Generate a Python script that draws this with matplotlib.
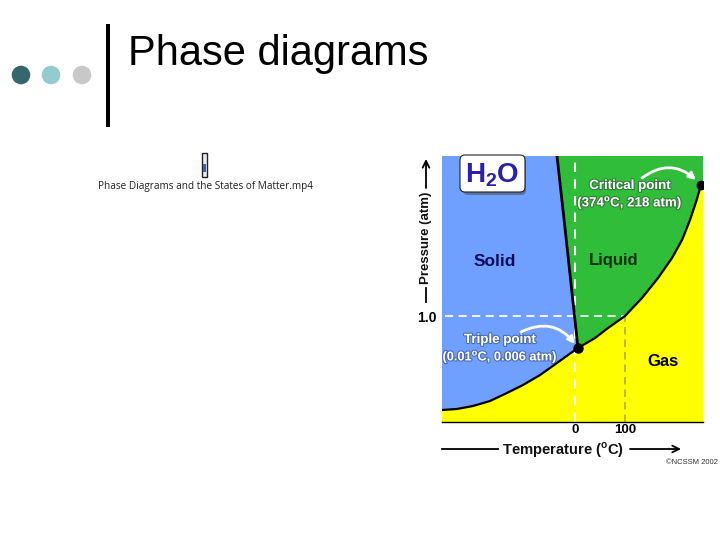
import matplotlib
matplotlib.use('Agg')
import matplotlib.pyplot as plt
import matplotlib.patheffects as pe
from matplotlib.patches import Circle, FancyBboxPatch, Rectangle

plt.rcParams['font.family'] = ['Liberation Sans', 'DejaVu Sans']
plt.rcParams['mathtext.fontset'] = 'custom'
plt.rcParams['mathtext.bf'] = 'Liberation Sans:bold'
plt.rcParams['mathtext.rm'] = 'Liberation Sans'

# Curves (the original diagram is schematic, not to scale)
sub_t = [-266, -236, -204, -170, -136, -104, -70, -36, -14, 6]
sub_p = [0.113, 0.123, 0.151, 0.198, 0.274, 0.349, 0.443, 0.557, 0.632, 0.698]
vap_t = [6, 40, 66, 100, 134, 166, 194, 214, 230, 242, 252]
vap_p = [0.698, 0.792, 0.887, 1.0, 1.17, 1.358, 1.547, 1.717, 1.906, 2.075, 2.236]
melt_t = [6, -4, -20, -36]
melt_p = [0.698, 1.132, 1.83, 2.51]

t_ticks = [0, 100]
t_tick_labels = ['0', '100']
p_ticks = [1.0]
p_tick_labels = ['1.0']

t_min, t_max = -266, 256
p_max = 2.51

BLUE = '#6f9fff'
GREEN = '#2fbd3a'
YELLOW = '#ffff00'
NAVY = '#0b0b55'
W, H = 720, 540


def px_box(x0, y0, x1, y1):
    return [x0 / W, 1 - y1 / H, (x1 - x0) / W, (y1 - y0) / H]


fig = plt.figure(figsize=(7.2, 5.4), dpi=100)

# Phase diagram
ax = fig.add_axes(px_box(442, 156, 703, 422))
ax.set_xlim(t_min, t_max)
ax.set_ylim(0, p_max)
ax.set_facecolor(BLUE)

# Regions
gas_t = sub_t + vap_t[1:] + [t_max, t_max, t_min]
gas_p = sub_p + vap_p[1:] + [vap_p[-1], 0, 0]
ax.fill(gas_t, gas_p, color=YELLOW, lw=0)
liq_t = melt_t + [t_max, t_max] + vap_t[::-1]
liq_p = melt_p + [p_max, vap_p[-1]] + vap_p[::-1]
ax.fill(liq_t, liq_p, color=GREEN, lw=0)

# Dashed guides
ax.plot([0, 0], [0, p_max], color='white', lw=1.5, dashes=(4.5, 3.5))
ax.plot([t_min + 6, 100], [1.0, 1.0], color='white', lw=1.3, dashes=(4.5, 3))
ax.plot([100, 100], [0, 1.0], color='#b5a94a', lw=1.2, dashes=(4.5, 3))

# Phase boundaries
ax.plot(sub_t, sub_p, color='black', lw=1.6)
ax.plot(vap_t, vap_p, color='black', lw=1.6)
ax.plot(melt_t, melt_p, color='black', lw=2)
ax.plot([vap_t[0]], [vap_p[0]], 'o', color='black', ms=6.5)
ax.plot([vap_t[-1]], [vap_p[-1]], 'o', color='black', ms=6)

ax.set_xticks(t_ticks, t_tick_labels, fontweight='bold', fontsize=9.5)
ax.set_yticks(p_ticks, p_tick_labels, fontweight='bold', fontsize=10)
ax.tick_params(length=0, pad=1.5)
ax.tick_params(axis='y', pad=4)
for s in ['top', 'left', 'right']:
    ax.spines[s].set_visible(False)
ax.spines['bottom'].set_linewidth(1)

# Everything else on an overlay in pixel coordinates
ov = fig.add_axes([0, 0, 1, 1], facecolor='none')
ov.set_xlim(0, W)
ov.set_ylim(H, 0)
ov.axis('off')

# Slide decoration
for cx, col in [(21, '#35686e'), (51, '#93cbcf'), (82, '#c8c8c8')]:
    ov.add_patch(Circle((cx, 75), 9.3, color=col, lw=0))
ov.add_patch(Rectangle((106, 24), 4, 103, color='black', lw=0))
ov.text(128, 54, 'Phase diagrams', fontsize=30, va='center', ha='left', color='black')

# Video icon and name
ov.add_patch(Rectangle((201.5, 153), 5.5, 23.5, fc='#e8eef2', ec='#222222', lw=1))
ov.add_patch(Rectangle((203, 164), 2.5, 8, fc='#2a6ab0', lw=0))
ov.text(205, 186, 'Phase Diagrams and the States of Matter.mp4', fontsize=7.2,
        family='Open Sans', ha='center', va='center', color='#222222')

# H2O box
ov.add_patch(FancyBboxPatch((463, 158), 63, 37, boxstyle='round,pad=0,rounding_size=5',
                            fc='#444444', ec='none', alpha=0.5))
ov.add_patch(FancyBboxPatch((460, 155), 65, 37, boxstyle='round,pad=0,rounding_size=5',
                            fc='white', ec='#222222', lw=0.8))
ov.text(492, 175, r'H$_{\mathbf{2}}$O', fontsize=20, fontweight='bold', color='#2a1fb0',
        ha='center', va='center')

# Region names
ov.text(495, 262, 'Solid', fontsize=12.5, fontweight='bold', color=NAVY, ha='center', va='center')
ov.text(614, 261, 'Liquid', fontsize=12, fontweight='bold', color='#06300a', ha='center', va='center')
ov.text(663, 361, 'Gas', fontsize=12, fontweight='bold', color='black', ha='center', va='center')

# Point labels with shadowed white text
sh = [pe.withStroke(linewidth=1.6, foreground='#33553a', alpha=0.6)]
ov.text(630, 186, 'Critical point', fontsize=9.6, fontweight='bold', color='white', ha='center',
        va='center', path_effects=sh)
ov.text(630, 203, r'(374$^{\mathbf{o}}$C, 218 atm)', fontsize=9.6, fontweight='bold', color='white',
        ha='center', va='center', path_effects=sh)
sh2 = [pe.withStroke(linewidth=1.6, foreground='#334a77', alpha=0.6)]
ov.text(500, 340, 'Triple point', fontsize=9.6, fontweight='bold', color='white', ha='center',
        va='center', path_effects=sh2)
ov.text(500, 357, r'(0.01$^{\mathbf{o}}$C, 0.006 atm)', fontsize=9.2, fontweight='bold', color='white',
        ha='center', va='center', path_effects=sh2)

# Curved arrows
ov.annotate('', xy=(696, 180), xytext=(642, 178),
            arrowprops=dict(arrowstyle='-|>', color='white', lw=2, mutation_scale=10,
                            connectionstyle='arc3,rad=-0.4', shrinkA=0, shrinkB=0))
ov.annotate('', xy=(575, 344), xytext=(521, 332),
            arrowprops=dict(arrowstyle='-|>', color='white', lw=2, mutation_scale=10,
                            connectionstyle='arc3,rad=-0.4', shrinkA=0, shrinkB=0))

# Axis captions with arrows
ov.text(563, 450, r'Temperature ($^{\mathbf{o}}$C)', fontsize=10.6, fontweight='bold', color='#111111',
        ha='center', va='center')
ov.plot([442, 498], [449, 449], color='black', lw=1.3)
ov.annotate('', xy=(681, 449), xytext=(630, 449),
            arrowprops=dict(arrowstyle='->', color='black', lw=1.3, mutation_scale=12, shrinkA=0, shrinkB=0))
ov.text(426, 238, 'Pressure (atm)', fontsize=9.5, fontweight='bold', rotation=90, color='#111111',
        ha='center', va='center')
ov.plot([426, 426], [302, 288], color='black', lw=1.3)
ov.annotate('', xy=(426, 159), xytext=(426, 188),
            arrowprops=dict(arrowstyle='->', color='black', lw=1.3, mutation_scale=12, shrinkA=0, shrinkB=0))

ov.text(692, 463, '\u00a9NCSSM 2002', fontsize=5.5, color='#333333', ha='center', va='center')

fig.savefig('out.png', dpi=100)
